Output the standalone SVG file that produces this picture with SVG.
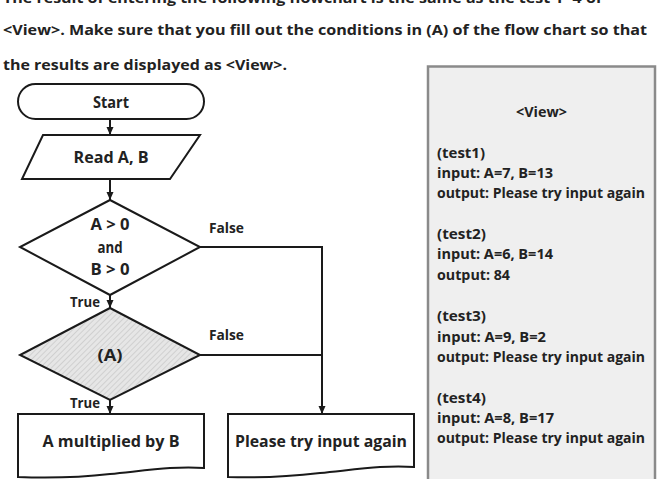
<svg xmlns="http://www.w3.org/2000/svg" width="663" height="479" viewBox="0 0 663 479">
<style>
.t{font-family:"Open Sans","Liberation Sans",sans-serif;font-weight:bold;fill:#222;}
.p{font-size:14px;}
.n{font-size:16px;text-anchor:middle;}
.l{font-size:13.5px;}
.b{font-size:13.5px;}
.s{fill:#fff;stroke:#1a1a1a;stroke-width:2;}
.c{fill:none;stroke:#1a1a1a;stroke-width:2;}
</style>
<defs>
<marker id="ah" markerUnits="userSpaceOnUse" markerWidth="8" markerHeight="8" viewBox="0 0 8 8" refX="8" refY="4" orient="auto">
<path d="M0,0.5 L8,4 L0,7.5 Z" fill="#1a1a1a"/>
</marker>
<pattern id="hatch" patternUnits="userSpaceOnUse" width="4" height="4" patternTransform="rotate(45)">
<rect width="4" height="4" fill="#e6e6e6"/>
<line x1="0" y1="0" x2="0" y2="4" stroke="#c9c9c9" stroke-width="1.5"/>
</pattern>
</defs>
<rect width="663" height="479" fill="#fff"/>
<g id="question">
<text class="t p" x="3" y="3" textLength="599" lengthAdjust="spacingAndGlyphs">The result of entering the following flowchart is the same as the test 1~4 of</text>
<text class="t p" x="3" y="35" textLength="644" lengthAdjust="spacingAndGlyphs">&lt;View&gt;. Make sure that you fill out the conditions in (A) of the flow chart so that</text>
<text class="t p" x="3" y="70" textLength="284" lengthAdjust="spacingAndGlyphs">the results are displayed as &lt;View&gt;.</text>
</g>
<g id="view">
<rect x="428" y="66.5" width="227" height="420" fill="#efefef" stroke="#8a8a8a" stroke-width="2.5"/>
<text class="t b" x="516" y="117" textLength="51" lengthAdjust="spacingAndGlyphs">&lt;View&gt;</text>
<text class="t b" x="437" y="158" textLength="48" lengthAdjust="spacingAndGlyphs">(test1)</text>
<text class="t b" x="437" y="178" textLength="116" lengthAdjust="spacingAndGlyphs">input: A=7, B=13</text>
<text class="t b" x="437" y="198" textLength="208" lengthAdjust="spacingAndGlyphs">output: Please try input again</text>
<text class="t b" x="437" y="239" textLength="49" lengthAdjust="spacingAndGlyphs">(test2)</text>
<text class="t b" x="437" y="259" textLength="116" lengthAdjust="spacingAndGlyphs">input: A=6, B=14</text>
<text class="t b" x="437" y="280" textLength="73" lengthAdjust="spacingAndGlyphs">output: 84</text>
<text class="t b" x="437" y="321" textLength="49" lengthAdjust="spacingAndGlyphs">(test3)</text>
<text class="t b" x="437" y="342" textLength="109" lengthAdjust="spacingAndGlyphs">input: A=9, B=2</text>
<text class="t b" x="437" y="362" textLength="208" lengthAdjust="spacingAndGlyphs">output: Please try input again</text>
<text class="t b" x="437" y="403" textLength="49" lengthAdjust="spacingAndGlyphs">(test4)</text>
<text class="t b" x="437" y="423" textLength="117" lengthAdjust="spacingAndGlyphs">input: A=8, B=17</text>
<text class="t b" x="437" y="443" textLength="208" lengthAdjust="spacingAndGlyphs">output: Please try input again</text>
</g>
<g id="connectors">
<line class="c" x1="110" y1="119" x2="110" y2="135" marker-end="url(#ah)"/>
<line class="c" x1="110" y1="179" x2="110" y2="200" marker-end="url(#ah)"/>
<line class="c" x1="110" y1="295" x2="110" y2="308" marker-end="url(#ah)"/>
<line class="c" x1="110" y1="400" x2="110" y2="414" marker-end="url(#ah)"/>
<polyline class="c" points="200,247 322,247 322,414" marker-end="url(#ah)"/>
<line class="c" x1="200" y1="355" x2="322" y2="355"/>
<text class="t l" x="209" y="233" textLength="35" lengthAdjust="spacingAndGlyphs">False</text>
<text class="t l" x="209" y="340" textLength="35" lengthAdjust="spacingAndGlyphs">False</text>
<text class="t l" x="70" y="307" textLength="30" lengthAdjust="spacingAndGlyphs">True</text>
<text class="t l" x="70" y="408" textLength="30" lengthAdjust="spacingAndGlyphs">True</text>
</g>
<g id="start">
<rect class="s" x="18" y="84" width="186" height="35" rx="17.5"/>
<text class="t n" x="111" y="108" textLength="36" lengthAdjust="spacingAndGlyphs">Start</text>
</g>
<g id="read">
<polygon class="s" points="43,135 200,135 170,179 22,179"/>
<text class="t n" x="111" y="163" textLength="75" lengthAdjust="spacingAndGlyphs">Read A, B</text>
</g>
<g id="cond1">
<polygon class="s" points="110,200 200,247 110,295 20,247"/>
<text class="t n" x="110" y="230" textLength="39" lengthAdjust="spacingAndGlyphs">A &gt; 0</text>
<text class="t n" x="110" y="253" textLength="25" lengthAdjust="spacingAndGlyphs">and</text>
<text class="t n" x="110" y="275" textLength="39" lengthAdjust="spacingAndGlyphs">B &gt; 0</text>
</g>
<g id="condA">
<polygon class="s" points="110,308 200,355 110,400 20,355" style="fill:url(#hatch)"/>
<text class="t n" x="110" y="361" textLength="25" lengthAdjust="spacingAndGlyphs">(A)</text>
</g>
<g id="multiply">
<path class="s" d="M18,414 H204 V468 C175,466 150,470 110,474 C75,478 45,478 18,477 Z"/>
<text class="t n" x="111" y="447" textLength="137" lengthAdjust="spacingAndGlyphs">A multiplied by B</text>
</g>
<g id="retry">
<path class="s" d="M228,414 H414 V467 C385,465 360,469 320,473 C285,477 255,478 228,477 Z"/>
<text class="t n" x="321" y="447" textLength="172" lengthAdjust="spacingAndGlyphs">Please try input again</text>
</g>
</svg>
